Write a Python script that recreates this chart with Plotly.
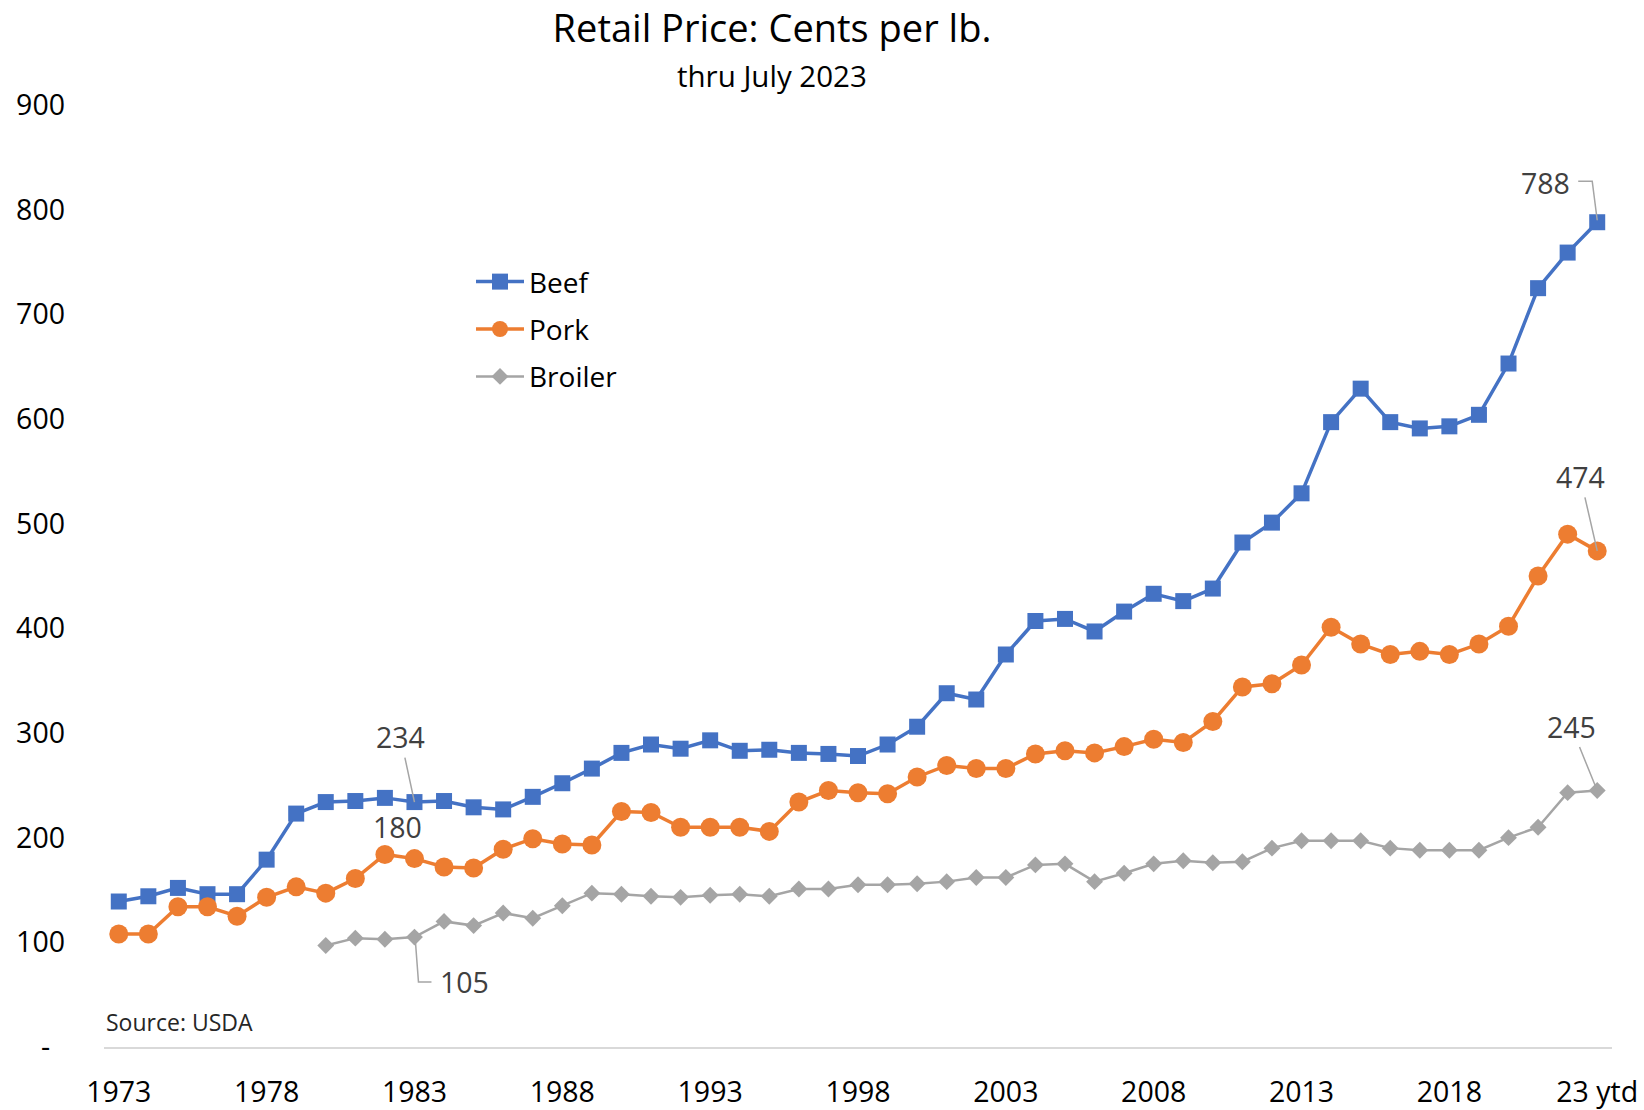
import plotly.graph_objects as go

years = [1973, 1974, 1975, 1976, 1977, 1978, 1979, 1980, 1981, 1982,
         1983, 1984, 1985, 1986, 1987, 1988, 1989, 1990, 1991, 1992,
         1993, 1994, 1995, 1996, 1997, 1998, 1999, 2000, 2001, 2002,
         2003, 2004, 2005, 2006, 2007, 2008, 2009, 2010, 2011, 2012,
         2013, 2014, 2015, 2016, 2017, 2018, 2019, 2020, 2021, 2022, 2023]

beef = [139, 144, 152, 146, 146, 179, 223, 234, 235, 238,
        234, 235, 229, 227, 239, 252, 266, 281, 289, 285,
        293, 283, 284, 281, 280, 278, 289, 306, 338, 332,
        375, 407, 409, 397, 416, 433, 426, 438, 482, 501,
        529, 597, 629, 597, 591, 593, 604, 653, 725, 759, 788]

pork = [108, 108, 134, 134, 125, 143, 153, 147, 161, 184,
        180, 172, 171, 189, 199, 194, 193, 225, 224, 210,
        210, 210, 206, 234, 245, 243, 242, 258, 269, 266,
        266, 280, 283, 281, 287, 294, 291, 311, 344, 347,
        365, 401, 385, 375, 378, 375, 385, 402, 450, 490, 474]

broiler = [None, None, None, None, None, None, None, 97, 104, 103,
           105, 120, 116, 128, 123, 135, 147, 146, 144, 143,
           145, 146, 144, 151, 151, 155, 155, 156, 158, 162,
           162, 174, 175, 158, 166, 175, 178, 176, 177, 190,
           197, 197, 197, 190, 188, 188, 188, 200, 210, 243, 245]

x_tickvals = [1973, 1978, 1983, 1988, 1993, 1998, 2003, 2008, 2013, 2018, 2023]
x_ticktext = ["1973", "1978", "1983", "1988", "1993", "1998", "2003", "2008", "2013", "2018", "23 ytd"]
y_tickvals = [0, 100, 200, 300, 400, 500, 600, 700, 800, 900]
y_ticktext = ["-\u00a0\u00a0", "100", "200", "300", "400", "500", "600", "700", "800", "900"]

FONT = "Open Sans"
BLUE = "#4472C4"
ORANGE = "#ED7D31"
GRAY = "#A5A5A5"
LABEL = "#404040"

fig = go.Figure()
fig.add_trace(go.Scatter(x=years, y=beef, name="Beef", mode="lines+markers",
                         line=dict(color=BLUE, width=3.5),
                         marker=dict(symbol="square", size=16, color=BLUE),
                         legendgroup="a"))
fig.add_trace(go.Scatter(x=years, y=pork, name="Pork", mode="lines+markers",
                         line=dict(color=ORANGE, width=3.5),
                         marker=dict(symbol="circle", size=19, color=ORANGE),
                         legendgroup="b"))
fig.add_trace(go.Scatter(x=years, y=broiler, name="Broiler", mode="lines+markers",
                         line=dict(color=GRAY, width=2.5),
                         marker=dict(symbol="diamond", size=13, color=GRAY),
                         legendgroup="c"))

def lbl(x, y, text, ax, ay, arrow=True):
    d = dict(x=x, y=y, xref="x", yref="y", text=text,
             font=dict(family=FONT, size=28.5, color=LABEL))
    if arrow:
        d.update(showarrow=True, arrowhead=0, arrowwidth=1.5, arrowcolor=GRAY,
                 ax=ax, ay=ay, standoff=0)
    else:
        d.update(showarrow=False, xshift=ax, yshift=-ay)
    return d

i83 = years.index(1983)
annotations = [
    lbl(years[-1], beef[-1], str(beef[-1]), -52, -39.5, arrow=False),
    lbl(years[-1], pork[-1], str(pork[-1]), -17, -74),
    lbl(years[-1], broiler[-1], str(broiler[-1]), -26, -64),
    lbl(years[i83], beef[i83], str(beef[i83]), -14, -65),
    lbl(years[i83], pork[i83], str(pork[i83]), -17, -32, arrow=False),
    lbl(years[i83], broiler[i83], str(broiler[i83]), 50, 44.5, arrow=False),
    dict(x=0.0, y=0.027, xref="paper", yref="paper", xanchor="left", yanchor="middle",
         text="Source: USDA", showarrow=False,
         font=dict(family=FONT, size=23, color="#262626")),
    dict(x=(772 - 104) / 1508, y=(1047.5 - 75) / 942.5, xref="paper", yref="paper",
         xanchor="center", yanchor="middle", text="thru July 2023", showarrow=False,
         font=dict(family=FONT, size=29.5, color="#000000")),
]

# elbow leader lines, anchored at the labelled data points (pixel offsets)
shapes = [
    dict(type="path", xref="x", yref="y", xsizemode="pixel", ysizemode="pixel",
         xanchor=years[-1], yanchor=beef[-1], path="M-19,41 L-5,41 L0,2",
         line=dict(color=GRAY, width=1.5)),
    dict(type="path", xref="x", yref="y", xsizemode="pixel", ysizemode="pixel",
         xanchor=years[i83], yanchor=broiler[i83], path="M1,-5 L4,-45 L17,-45",
         line=dict(color=GRAY, width=1.5)),
]

fig.update_layout(
    width=1644, height=1110,
    margin=dict(l=104, r=32, t=105, b=62.5, pad=0, autoexpand=False),
    paper_bgcolor="white", plot_bgcolor="white",
    font=dict(family=FONT, color="#000000"),
    title=dict(text="Retail Price: Cents per lb.", x=772 / 1644, xanchor="center",
               xref="container", y=1 - 29 / 1110, yanchor="middle", yref="container",
               font=dict(family=FONT, size=38, color="#000000")),
    showlegend=True,
    legend=dict(x=(471 - 104) / 1508, y=(1047.5 - 257) / 942.5, xanchor="left", yanchor="top",
                font=dict(family=FONT, size=28, color="#000000"),
                bgcolor="rgba(0,0,0,0)", borderwidth=0, tracegroupgap=8,
                itemwidth=48),
    annotations=annotations,
    shapes=shapes,
)
fig.update_xaxes(range=[1972.5, 2023.5], tickvals=x_tickvals, ticktext=x_ticktext,
                 showgrid=False, zeroline=False, showline=True, linecolor="#D9D9D9",
                 linewidth=2, ticks="", ticklabelstandoff=19, automargin=False,
                 tickfont=dict(family=FONT, size=28.5, color="#000000"))
fig.update_yaxes(range=[0, 900], tickvals=y_tickvals, ticktext=y_ticktext,
                 showgrid=False, zeroline=False, showline=False, ticks="",
                 ticklabelstandoff=38, automargin=False,
                 tickfont=dict(family=FONT, size=28.5, color="#000000"))

fig.write_html("out.html", config={"displayModeBar": False},
               post_script="document.body.style.margin='0';document.body.style.overflow='hidden';")
